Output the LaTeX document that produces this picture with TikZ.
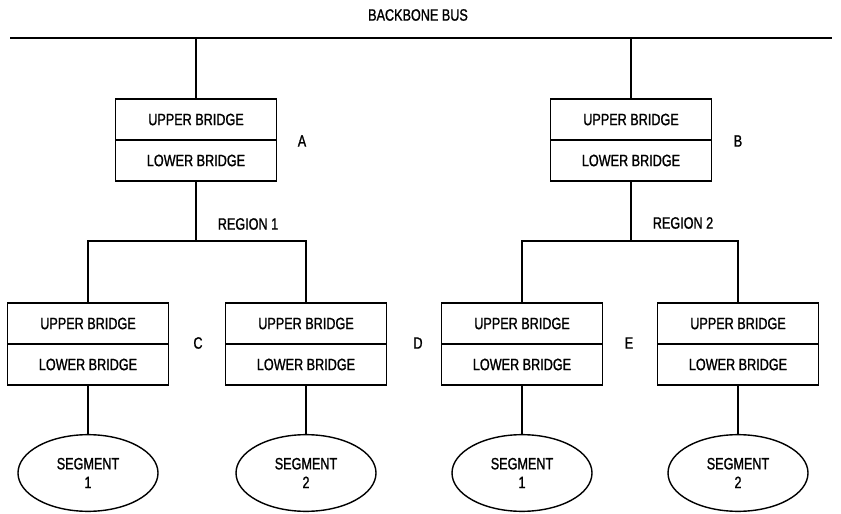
\documentclass[tikz,border=0pt]{standalone}
\usepackage{fontspec}
\setmainfont[FakeStretch=0.77, FakeBold=1.2]{Liberation Sans}
\usetikzlibrary{positioning,shapes.geometric}

\begin{document}
\begin{tikzpicture}[x=0.03cm, y=-0.03cm, line width=1.2pt,
    every node/.style={font=\fontsize{14}{16}\selectfont},
    half/.style={draw, minimum width=4.83cm, minimum height=1.23cm,
        inner sep=0pt, outer sep=0pt},
    seg/.style={draw, ellipse, minimum width=4.2cm, minimum height=2.3cm,
        inner sep=0pt, align=center}]
    \useasboundingbox (0,0) rectangle (841,514);

    % Backbone
    \node (title) at (418,15) {BACKBONE BUS};
    \coordinate (busL) at (10,38);
    \coordinate (busR) at (832,38);
    \draw[line width=1.6pt] (busL) -- (busR);

    % Top bridges
    \node[half] (aU) at (196,119.5) {UPPER BRIDGE};
    \node[half, below=0pt of aU] (aL) {LOWER BRIDGE};
    \node (labA) at (302,141) {A};
    \node[half] (bU) at (631,119.5) {UPPER BRIDGE};
    \node[half, below=0pt of bU] (bL) {LOWER BRIDGE};
    \node (labB) at (738,141) {B};
    \draw (busL -| aU.north) -- (aU.north);
    \draw (busL -| bU.north) -- (bU.north);

    % Region 1
    \coordinate (r1) at (196,241);
    \node (reg1) at (248,224) {REGION 1};
    \node[half] (cU) at (88,323.5) {UPPER BRIDGE};
    \node[half, below=0pt of cU] (cL) {LOWER BRIDGE};
    \node (labC) at (198,343) {C};
    \node[half] (dU) at (306,323.5) {UPPER BRIDGE};
    \node[half, below=0pt of dU] (dL) {LOWER BRIDGE};
    \node (labD) at (418,343) {D};
    \draw (aL.south) -- (r1);
    \draw (cU.north) -- (cU.north |- r1) -- (dU.north |- r1) -- (dU.north);

    % Region 2
    \coordinate (r2) at (631,241);
    \node (reg2) at (683,223) {REGION 2};
    \node[half] (eU) at (522,323.5) {UPPER BRIDGE};
    \node[half, below=0pt of eU] (eL) {LOWER BRIDGE};
    \node (labE) at (629,343) {E};
    \node[half] (fU) at (738,323.5) {UPPER BRIDGE};
    \node[half, below=0pt of fU] (fL) {LOWER BRIDGE};
    \draw (bL.south) -- (r2);
    \draw (eU.north) -- (eU.north |- r2) -- (fU.north |- r2) -- (fU.north);

    % Segments
    \node[seg] (s1) at (88,473) {SEGMENT\\1};
    \node[seg] (s2) at (306,473) {SEGMENT\\2};
    \node[seg] (s3) at (522,473) {SEGMENT\\1};
    \node[seg] (s4) at (738,473) {SEGMENT\\2};
    \draw (cL) -- (s1);
    \draw (dL) -- (s2);
    \draw (eL) -- (s3);
    \draw (fL) -- (s4);
\end{tikzpicture}
\end{document}
